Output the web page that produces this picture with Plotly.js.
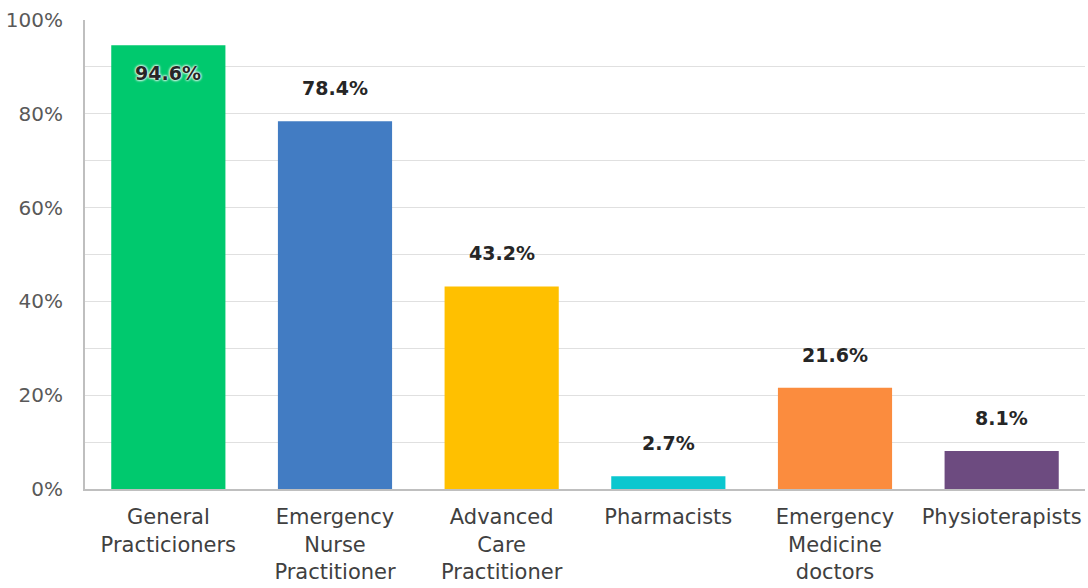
<!DOCTYPE html>
<html>
<head>
<meta charset="utf-8">
<script src="https://cdn.plot.ly/plotly-3.0.1.min.js"></script>
<style>html,body{margin:0;padding:0;background:#fff}#chart{width:1088px;height:588px}</style>
</head>
<body>
<div id="chart"></div>
<script>
const categories = [
  "General<br>Practicioners",
  "Emergency<br>Nurse<br>Practitioner",
  "Advanced<br>Care<br>Practitioner",
  "Pharmacists",
  "Emergency<br>Medicine<br>doctors",
  "Physioterapists"
];
const values = [94.6, 78.4, 43.2, 2.7, 21.6, 8.1];
const barColors = ["#00C96E", "#427CC3", "#FFC000", "#0BC7CF", "#FB8C3E", "#6D4B80"];

const FONT = "Century Gothic, 'DejaVu Sans', sans-serif";

const trace = {
  type: "bar",
  x: categories,
  y: values,
  marker: {color: barColors},
  width: 0.685,
  hoverinfo: "none"
};

const annotations = values.map((v, i) => {
  const inside = v > 90;
  return {
    x: categories[i],
    y: v,
    xref: "x",
    yref: "y",
    text: v.toFixed(1) + "%",
    showarrow: false,
    yanchor: "middle",
    yshift: inside ? -28 : 33,
    font: {family: FONT, size: 19, color: "#262626", weight: "bold",
           shadow: inside ? "0px 0px 3px #fff, 0px 0px 3px #fff, 0px 0px 2px #fff" : "none"}
  };
});

const layout = {
  width: 1088,
  height: 588,
  margin: {l: 85, r: 3, t: 20, b: 99},
  paper_bgcolor: "#fff",
  plot_bgcolor: "#fff",
  showlegend: false,
  bargap: 0.315,
  font: {family: FONT, color: "#595959", size: 19},
  xaxis: {
    showline: true,
    linecolor: "#BFBFBF",
    linewidth: 2,
    ticks: "",
    ticklabelstandoff: 8,
    tickfont: {family: FONT, size: 21, color: "#404040"},
    fixedrange: true
  },
  yaxis: {
    range: [0, 100],
    dtick: 20,
    ticksuffix: "%",
    showline: true,
    linecolor: "#BFBFBF",
    linewidth: 2,
    showgrid: true,
    gridcolor: "#E0E0E0",
    gridwidth: 1,
    minor: {dtick: 10, showgrid: true, gridcolor: "#E0E0E0", gridwidth: 1},
    zeroline: false,
    ticks: "",
    ticklabelstandoff: 16,
    tickfont: {family: FONT, size: 20, color: "#595959"},
    fixedrange: true
  },
  annotations: annotations
};

Plotly.newPlot("chart", [trace], layout, {displayModeBar: false, staticPlot: true});
</script>
</body>
</html>
